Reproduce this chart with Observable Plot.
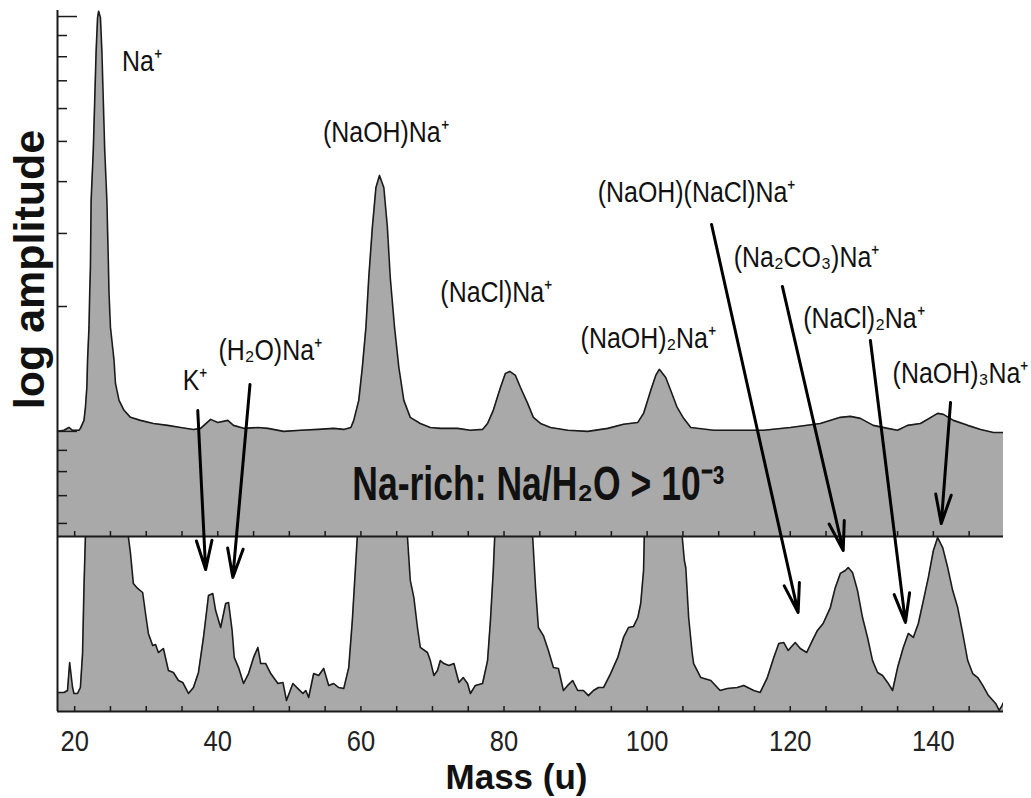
<!DOCTYPE html>
<html><head><meta charset="utf-8">
<script src="https://cdn.jsdelivr.net/npm/d3@7"></script>
<script src="https://cdn.jsdelivr.net/npm/@observablehq/plot@0.6"></script>
<style>
html,body{margin:0;padding:0;background:#fff;overflow:hidden;}
#chart{position:relative;width:1031px;height:798px;}
#chart svg{display:block;overflow:visible;}
</style></head><body><div id="chart"></div>
<script>
// ---- Top panel: full spectrum, log amplitude ----
const topMass = [17.6,18.5,19.2,19.7,20.6,20.8,21.3,21.5,21.7,21.8,22.0,22.1,22.2,22.3,22.6,22.8,23.0,23.2,23.35,23.6,23.8,24.0,24.2,24.5,24.7,24.8,25.0,25.5,25.7,26.2,26.9,27.8,29.2,31.0,33.0,34.8,36.6,37.6,39.0,40.0,41.4,42.2,43.6,45.6,47.0,49.2,51.6,54.0,56.2,57.6,58.6,59.0,59.7,60.2,60.7,61.1,61.6,62.1,62.6,63.2,63.7,64.1,64.7,65.3,66.0,66.9,68.3,69.7,71.1,73.5,75.3,77.0,77.7,78.5,79.5,80.2,80.8,81.6,82.3,83.3,84.1,85.1,86.5,88.9,91.7,94.5,96.7,98.7,99.5,100.5,101.2,101.7,102.6,103.3,104.2,105.1,106.1,109.3,116.3,120.0,124.2,127.0,128.4,129.8,131.6,133.6,135.0,136.4,138.2,140.6,141.4,142.8,144.8,146.6,148.4,149.8];
const topAmp = [1.000,1.006,1.022,1.006,1.006,1.017,1.063,1.142,1.276,1.483,1.781,2.150,2.485,3.603,4.754,6.276,8.28,9.94,10.3,9.94,8.28,6.276,4.754,3.603,2.583,2.150,1.781,1.483,1.305,1.188,1.124,1.081,1.063,1.045,1.034,1.022,1.011,1.017,1.069,1.051,1.063,1.034,1.017,1.022,1.017,1.000,1.006,1.011,1.017,1.011,1.022,1.063,1.188,1.427,1.781,2.350,3.102,3.873,4.140,3.873,3.102,2.350,1.781,1.427,1.188,1.081,1.045,1.022,1.017,1.017,1.006,1.011,1.045,1.124,1.276,1.380,1.395,1.364,1.276,1.168,1.081,1.045,1.022,1.006,1.000,1.017,1.040,1.051,1.105,1.255,1.364,1.411,1.349,1.255,1.142,1.075,1.022,1.006,1.006,1.022,1.045,1.081,1.087,1.075,1.034,1.017,1.006,1.034,1.045,1.105,1.099,1.063,1.034,1.011,0.994,0.994];

// ---- Bottom panel: magnified spectrum (clipped at the top) ----
const lowMass = [17.6,18.5,19.0,19.3,19.7,19.9,20.4,20.8,21.1,21.3,21.5,23.3,27.5,27.8,28.2,28.8,29.5,29.9,30.3,30.9,31.3,31.7,32.4,33.1,33.8,34.5,35.1,35.9,36.6,37.3,38.0,38.7,39.3,39.7,40.4,41.1,41.5,42.0,42.3,42.9,43.6,44.3,45.0,45.6,46.0,46.7,47.4,48.4,49.1,49.6,50.5,51.2,51.9,52.3,52.7,53.4,54.1,54.8,55.5,56.2,56.9,57.6,58.3,58.8,59.3,59.5,62.6,66.5,66.9,67.4,67.9,68.3,69.3,69.7,70.2,70.7,71.1,71.6,72.3,73.0,73.7,74.3,74.9,75.3,76.0,77.0,77.7,78.1,78.5,78.7,80.8,84.0,84.4,84.8,85.5,86.2,86.9,87.6,88.3,88.9,89.6,90.3,91.1,91.8,92.5,93.2,93.9,94.9,95.9,96.7,97.4,98.1,98.7,99.1,99.5,99.6,101.7,104.9,105.2,105.4,105.8,106.3,106.5,107.5,108.9,110.2,111.2,112.6,113.5,114.9,115.8,116.8,117.7,118.4,119.1,119.7,120.7,121.4,122.3,123.1,123.8,124.6,125.6,126.3,127.0,127.7,128.1,128.7,129.4,130.1,130.8,131.5,132.2,132.9,133.6,134.3,135.0,135.8,136.5,137.2,137.9,138.6,139.3,140.0,140.6,141.3,142.0,142.7,143.4,144.1,144.8,145.5,146.2,146.9,147.7,148.7,149.2,149.6,149.8];
const lowAmp = [10.9,10.9,12.0,28.0,13.7,10.3,10.3,13.7,33.1,70.9,100,400,100,90.3,73.1,70.3,68.0,56.0,44.6,37.7,38.3,33.7,36.0,23.4,22.3,17.7,16.6,10.3,13.7,22.3,42.3,66.3,67.4,57.7,48.0,61.7,62.3,46.3,30.9,25.1,16.0,21.7,30.9,36.6,27.4,27.4,21.7,16.0,16.6,6.3,16.0,13.1,10.3,12.0,8.0,21.7,20.6,24.6,14.9,16.0,13.7,13.1,25.1,52.0,86.3,100,300,100,74.9,65.1,48.0,36.6,33.7,29.1,20.6,23.4,29.1,27.4,26.3,27.4,16.6,19.4,16.0,10.3,14.9,16.0,29.1,52.0,80.6,100,180,100,70.9,48.0,43.4,34.9,25.1,24.6,12.0,14.9,17.7,12.0,12.0,9.1,12.0,13.7,13.7,21.7,30.9,42.3,48.0,48.6,53.7,61.7,80.6,100,180,100,86.3,82.3,53.7,33.1,27.4,19.4,17.7,12.0,13.1,13.7,14.9,12.0,10.9,19.4,30.9,38.9,39.4,34.9,39.4,36.0,33.7,40.6,46.3,50.3,59.4,70.9,78.9,80.6,82.3,79.4,69.1,53.7,42.3,29.1,22.3,20.6,16.6,12.0,25.1,36.6,44.6,42.3,50.3,63.4,76.6,92.0,99.4,93.7,82.3,69.1,59.4,44.6,29.1,21.7,19.4,14.9,9.1,4.6,0.6,3.4,5.1];

// ---- Peak labels (top panel coordinates) ----
const labelText = ["Na⁺","(NaOH)Na⁺","(NaOH)(NaCl)Na⁺","(NaCl)Na⁺","(NaOH)₂Na⁺","(Na₂CO₃)Na⁺","(NaCl)₂Na⁺","(NaOH)₃Na⁺","K⁺","(H₂O)Na⁺"];
const labelMass = [26.6,54.7,93.1,71.1,90.7,112.1,121.8,134.3,35.1,40.1];
const labelAmp  = [7.79,5.25,3.77,2.16,1.675,2.627,1.872,1.380,1.327,1.567];

// ---- Arrows (bottom panel coordinates, start above the panel) ----
const arrowFromMass = [37.2,44.5,109.0,118.9,131.2,142.4];
const arrowFromAmp  = [172.0,186.9,278.3,242.9,212.0,176.6];
const arrowToMass   = [38.3,42.1,121.1,127.4,136.1,141.1];
const arrowToAmp    = [81.1,76.6,56.6,92.0,50.9,107.4];

const panelNote = "Na-rich: Na/H₂O > 10⁻³";
const noteMass = 58.8, noteAmp = 0.745;

const massLabelTicks = [20,40,60,80,100,120,140];
const massMinorTicks = d3.range(20,150,5);
const ampMinorTicks = [0.6,0.7,0.8,0.9,2,3,4,5,6,7,8,9];
const ampMajorTicks = [1,10];

const xDomain = [17.6,149.8];
const topDomain = [0.558,10.34];
const lowDomain = [0,100];

const fillGrey = "#a9a9a9", ink = "#1a1a1a";
const sans = '"Liberation Sans",Arial,sans-serif';
const W = 1031, ML = 57, MR = 28;
const plotW = W - ML - MR;

const topData = topMass.map((m,i)=>({mass:m, amp:topAmp[i]}));
const lowData = lowMass.map((m,i)=>({mass:m, amp:lowAmp[i]}));
const labels = labelText.map((t,i)=>({t, mass:labelMass[i], amp:labelAmp[i]}));
const arrows = arrowFromMass.map((m,i)=>({x1:m, y1:arrowFromAmp[i], x2:arrowToMass[i], y2:arrowToAmp[i]}));

const topH = 536, topMT = 10;
const topPlot = Plot.plot({
  width: W, height: topH, marginLeft: ML, marginRight: MR, marginTop: topMT, marginBottom: 0,
  style: {overflow: "visible", background: "transparent"},
  x: {domain: xDomain, axis: null},
  y: {type: "log", domain: topDomain, axis: null},
  marks: [
    Plot.areaY(topData, {x: "mass", y1: topDomain[0], y2: "amp", fill: fillGrey, clip: true}),
    Plot.lineY(topData, {x: "mass", y: "amp", stroke: ink, strokeWidth: 1.6, clip: true}),
    Plot.tickY(ampMinorTicks, {y: d=>d, stroke: ink, strokeWidth: 1.5, insetRight: plotW - 10}),
    Plot.tickY(ampMajorTicks, {y: d=>d, stroke: ink, strokeWidth: 1.5, insetRight: plotW - 20}),
    Plot.tickX(massMinorTicks, {x: d=>d, stroke: ink, strokeWidth: 1.5, insetTop: topH - topMT - 5}),
    Plot.ruleX([xDomain[0]], {stroke: ink, strokeWidth: 2}),
    Plot.text(labels, {x: "mass", y: "amp", text: "t", textAnchor: "start", fontSize: 29, fontFamily: sans, fill: "#111"}),
    Plot.text([panelNote], {x: ()=>noteMass, y: ()=>noteAmp, textAnchor: "start", fontSize: 48, fontWeight: "bold", fontFamily: sans, fill: "#111"}),
    Plot.text(["log amplitude"], {frameAnchor: "left", textAnchor: "middle", lineAnchor: "middle", rotate: -90, dx: -27, dy: -4, fontSize: 43, fontWeight: "bold", fontFamily: sans, fill: "#111"})
  ]
});

const lowPlot = Plot.plot({
  width: W, height: 798 - topH, marginLeft: ML, marginRight: MR, marginTop: 0, marginBottom: 87,
  style: {overflow: "visible", background: "transparent"},
  x: {domain: xDomain},
  y: {domain: lowDomain, axis: null},
  marks: [
    Plot.areaY(lowData, {x: "mass", y: "amp", fill: fillGrey, clip: true}),
    Plot.lineY(lowData, {x: "mass", y: "amp", stroke: ink, strokeWidth: 1.6, clip: true}),
    Plot.ruleY(lowDomain, {stroke: ink, strokeWidth: 2}),
    Plot.ruleX([xDomain[0]], {stroke: ink, strokeWidth: 2}),
    Plot.tickX(massMinorTicks, {x: d=>d, stroke: ink, strokeWidth: 1.5, insetTop: 175 - 5}),
    Plot.axisX({ticks: massLabelTicks, tickSize: 0, tickPadding: 18, fontSize: 30, fontFamily: sans, color: "#222", label: null}),
    Plot.text(["Mass (u)"], {frameAnchor: "bottom", textAnchor: "middle", lineAnchor: "middle", dy: 66, dx: -14, fontSize: 35, fontWeight: "bold", fontFamily: sans, fill: "#111"}),
    Plot.arrow(arrows, {x1: "x1", y1: "y1", x2: "x2", y2: "y2", stroke: "#000", strokeWidth: 3, headLength: 15, headAngle: 30})
  ]
});

// condense the label glyphs horizontally (the original uses a narrow typeface)
function squeeze(svg, texts, s) {
  const wanted = new Set(texts.map(String));
  svg.querySelectorAll("text").forEach(t => {
    if (!wanted.has(t.textContent)) return;
    const tr = t.getAttribute("transform") || "";
    t.setAttribute("transform", tr + ` scale(${s},1)`);
  });
}
squeeze(topPlot, labelText, 0.86);
squeeze(topPlot, [panelNote], 0.74);
squeeze(lowPlot, massLabelTicks, 0.85);

const root = document.getElementById("chart");
root.appendChild(topPlot);
root.appendChild(lowPlot);
</script></body></html>
